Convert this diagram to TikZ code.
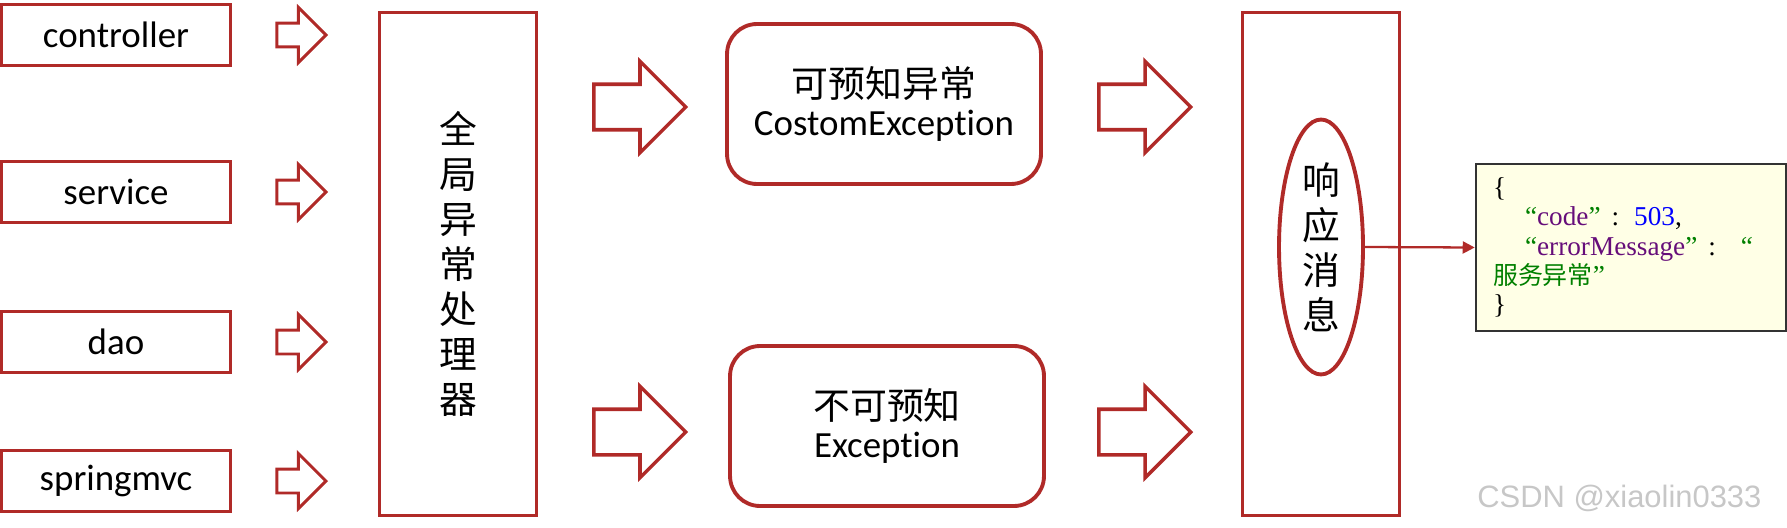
\documentclass[tikz,border=0pt]{standalone}
\usepackage{fontspec}
\setmainfont{Carlito}[Ligatures=NoCommon]
\newfontfamily\cjk{Noto Sans CJK SC}
\newfontfamily\codefont{Liberation Serif}
\newfontfamily\markfont{Liberation Sans}
\usepackage{xcolor}
\usetikzlibrary{shapes.geometric, shapes.arrows, positioning, arrows.meta}
\definecolor{boxred}{RGB}{176,42,40}
\definecolor{codegreen}{RGB}{0,128,0}
\definecolor{codepurple}{RGB}{102,14,122}
\definecolor{codeblue}{RGB}{0,0,255}
\definecolor{notefill}{RGB}{255,255,230}

\begin{document}
\begin{tikzpicture}[x=0.02cm, y=-0.02cm,
    layer/.style={draw=boxred, line width=2.2pt, minimum width=4.58cm, minimum height=1.22cm, font=\fontsize{21}{25}\selectfont},
    tall/.style={draw=boxred, line width=2.2pt, minimum width=3.14cm, minimum height=10.06cm, align=center, font=\cjk\fontsize{21.5}{25.6}\selectfont},
    case/.style={draw=boxred, line width=2.2pt, rounded corners=0.6cm, minimum width=6.28cm, minimum height=3.2cm, align=center, font=\fontsize{21}{22}\selectfont},
    smallarrow/.style={single arrow, draw=boxred, line width=1.7pt, single arrow tip angle=90, single arrow head extend=0.31cm, inner xsep=0pt, inner ysep=0.21cm, minimum width=0pt, minimum height=0.98cm},
    bigarrow/.style={smallarrow, anchor=west, line width=2pt, inner ysep=0.42cm, single arrow head extend=0.46cm, minimum height=1.84cm},
    jsonbox/.style={draw=black!80, fill=notefill, line width=1.5pt, minimum width=6.2cm, minimum height=3.34cm, text width=5.52cm, inner xsep=0.34cm, align=left, font=\codefont\fontsize{15.5}{16.6}\selectfont},
    link/.style={-{Triangle[length=0.24cm, width=0.24cm]}, boxred, line width=1.3pt}
]
    \useasboundingbox (0,0) rectangle (1787,527);

    % Layers
    \node[layer] (ctrl) at (116,35) {controller};
    \node[layer] (svc) at (116,192) {service};
    \node[layer] (dao) at (116,342) {dao};
    \node[layer] (mvc) at (116,481) {springmvc};

    % Arrows into the handler
    \node[smallarrow, right=0.86cm of ctrl] (a1) {};
    \node[smallarrow, right=0.86cm of svc] (a2) {};
    \node[smallarrow, right=0.86cm of dao] (a3) {};
    \node[smallarrow, right=0.86cm of mvc] (a4) {};

    % Global handler
    \node[tall] (handler) at (458,264) {全\\局\\异\\常\\处\\理\\器};

    % Exception kinds
    \node[bigarrow] (b1) at (592,107) {};
    \node[bigarrow] (b2) at (592,432) {};
    \node[case] (known) at (884,104) {{\cjk 可预知异常}\\CostomException};
    \node[case] (unknown) at (887,426) {{\cjk 不可预知}\\Exception};
    \node[bigarrow] (c1) at (1097,107) {};
    \node[bigarrow] (c2) at (1097,432) {};

    % Response
    \node[tall] (resp) at (1321,264) {};
    \node[ellipse, draw=boxred, line width=2.2pt, minimum width=1.68cm, minimum height=5.1cm, inner sep=0pt, align=center, font=\cjk\fontsize{21.5}{25.6}\selectfont] (msg) at (1321,247) {响\\应\\消\\息};

    % Message body
    \node[jsonbox] (json) at (1631,247.5) {%
        \mbox{\{}\\
        \mbox{\hspace*{0.64cm}{\color{codegreen}“}{\color{codepurple}code}{\color{codegreen}”}\hspace{0.22cm}:\hspace{0.3cm}{\color{codeblue}503},}\\
        \mbox{\hspace*{0.64cm}{\color{codegreen}“}{\color{codepurple}errorMessage}{\color{codegreen}”}\hspace{0.22cm}:\hspace{0.5cm}{\color{codegreen}“}}\\
        \mbox{\color{codegreen}{\cjk\fontsize{14.2}{16.6}\selectfont 服务异常}”}\\
        \mbox{\}}};
    \draw[link] (msg.east) -- (json.west);

    \node[anchor=base west, inner sep=0pt, font=\markfont\fontsize{17.6}{18}\selectfont, text=black!22] (mark) at (1477,507) {CSDN @xiaolin0333};
\end{tikzpicture}
\end{document}
